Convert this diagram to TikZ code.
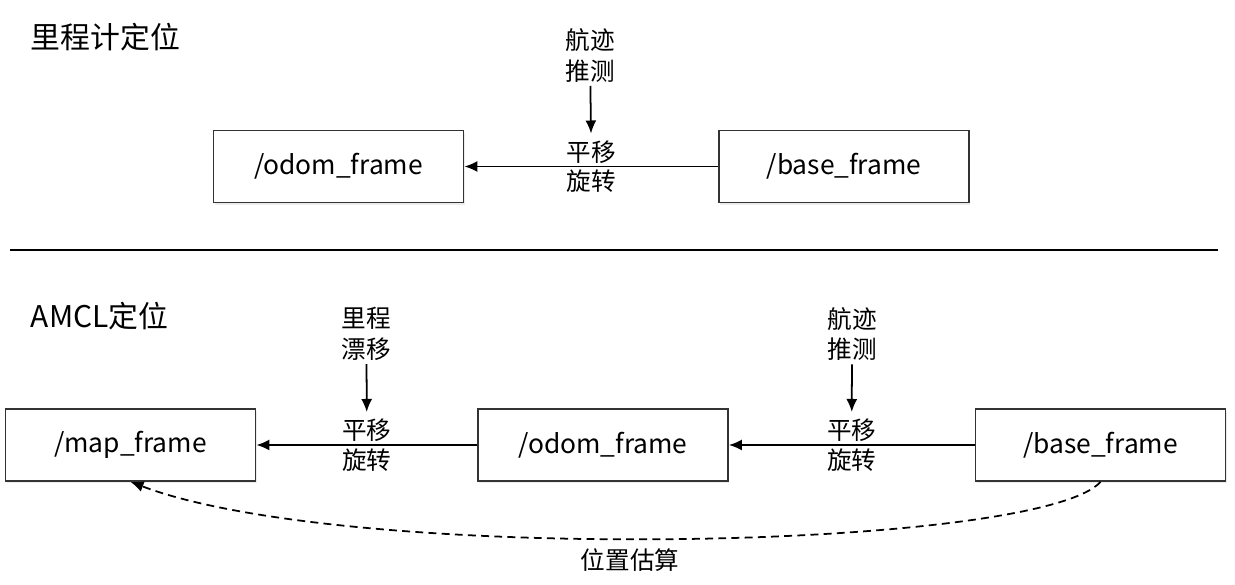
\documentclass[tikz,border=0pt]{standalone}
\usepackage{fontspec}
\setmainfont{Noto Sans CJK SC}
\usetikzlibrary{shadows,arrows.meta}

\begin{document}
\begin{tikzpicture}[
   box/.style={rectangle,draw=black!80,line width=1pt,fill=white,
    minimum width=5cm,minimum height=1.44cm,inner sep=+0.1cm,
    drop shadow={opacity=0.15,shadow xshift=0.6pt,shadow yshift=-1.2pt},
    font=\fontsize{15pt}{17pt}\selectfont},
   lbl/.style={font=\fontsize{14pt}{17.6pt}\selectfont,align=center,inner sep=+0.05cm},
   title/.style={anchor=west,font=\fontsize{17pt}{20pt}\selectfont,inner sep=0pt},
   >={Latex[length=2.6mm,width=2.2mm]}, line width=1pt
    ]
  \useasboundingbox (0,0) rectangle (24.7,-11.7);

  % -- top row
  \node[title] at (0.6,-0.74) (t1) {里程计定位};
  \node[box] at (6.77,-3.33) (odom1) {/odom\_frame};
  \node[box] at (16.88,-3.33) (base1) {/base\_frame};
  \node[lbl] at (11.8,-1.11) (dr1) {航迹\\推测};

  \draw[->] (base1) -- node[lbl,above] (mv1) {平移} node[lbl,below] {旋转} (odom1);
  \draw[->,shorten >=2pt] (dr1) -- (mv1);

  % -- separator
  \coordinate (sl) at (0.2,-5.0);
  \coordinate (sr) at (24.36,-5.0);
  \draw[line width=1.1pt] (sl) -- (sr);

  % -- bottom row
  \node[title] at (0.6,-6.32) (t2) {AMCL定位};
  \node[box] at (2.61,-8.9) (map2) {/map\_frame};
  \node[box] at (12.06,-8.9) (odom2) {/odom\_frame};
  \node[box] at (22.01,-8.9) (base2) {/base\_frame};
  \node[lbl] at (7.33,-6.68) (dft2) {里程\\漂移};
  \node[lbl] at (17.04,-6.68) (dr2) {航迹\\推测};

  \draw[->] (odom2) -- node[lbl,above] (mv2) {平移} node[lbl,below] {旋转} (map2);
  \draw[->] (base2) -- node[lbl,above] (mv3) {平移} node[lbl,below] {旋转} (odom2);
  \draw[->,shorten >=2pt] (dft2) -- (mv2);
  \draw[->,shorten >=2pt] (dr2) -- (mv3);

  % -- estimate
  \draw[->,dash pattern=on 4.5pt off 3pt] (base2.south) .. controls (20.8,-11.0) and (7.0,-11.3) .. (map2.south);
  \node[lbl] at (12.6,-11.2) (est) {位置估算};

\end{tikzpicture}
\end{document}
